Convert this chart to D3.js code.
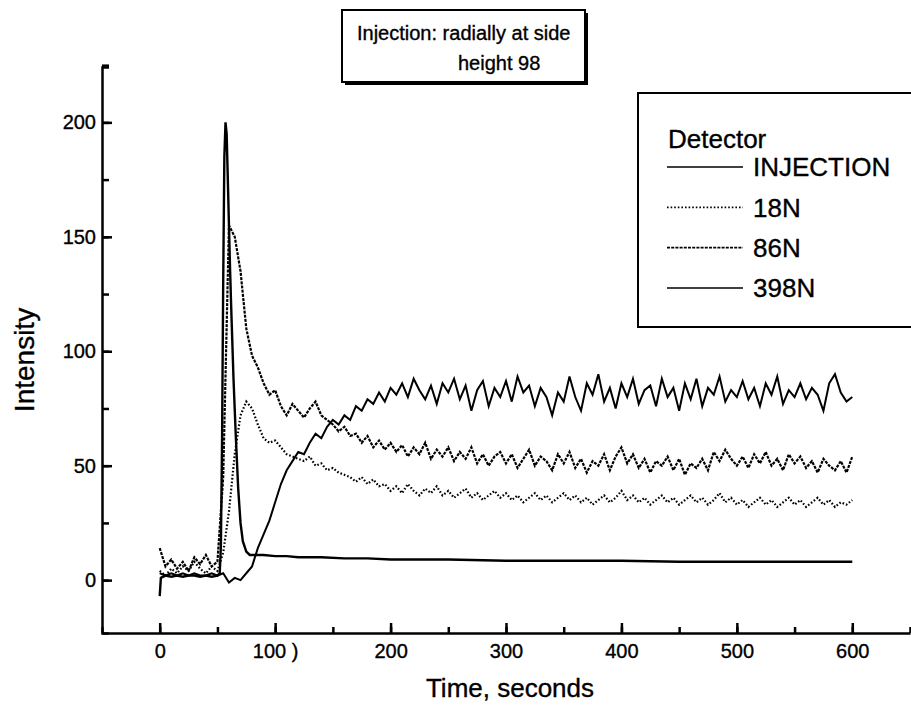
<!DOCTYPE html>
<html>
<head>
	<script src="https://d3js.org/d3.v7.min.js"></script>
	<title></title>
	<style type="text/css">
		body{ margin:0; background:#fff; }
		text{ font-family:"Liberation Sans", Arial, sans-serif; fill:#000; stroke:#000; stroke-width:0.35px; }
		.axis path, .axis line{ stroke:#000; stroke-width:2.5px; }
		.axis text{ font-size:20px; }
		.line{ fill:none; stroke:#000; }
	</style>
</head>
<body>

	<div id="chart"></div>

	<script type="text/javascript">

		// sample grid for the three detector traces (seconds)
		var time = d3.range(0, 601, 5);

		var v86N = [14, 6, 9, 5, 8, 4, 10, 7, 11, 6,
			8, 45, 155, 150, 135, 110, 98, 93, 86, 81,
			83, 76, 72, 77, 74, 71, 75, 78, 72, 70,
			68, 65, 67, 63, 64, 60, 63, 58, 61, 57,
			60, 56, 59, 54, 58, 55, 60, 53, 57, 54,
			58, 52, 56, 53, 58, 51, 55, 50, 54, 56,
			51, 55, 49, 53, 57, 50, 54, 52, 48, 55,
			51, 56, 49, 53, 47, 52, 50, 55, 48, 54,
			58, 51, 55, 49, 53, 47, 52, 50, 54, 48,
			53, 46, 51, 49, 53, 48, 56, 52, 57, 53,
			50, 54, 49, 55, 51, 56, 50, 53, 48, 55,
			51, 54, 49, 52, 47, 53, 50, 48, 52, 47,
			54];

		var v18N = [4, 2, 5, 3, 6, 4, 8, 5, 3, 6,
			4, 12, 30, 55, 72, 78, 75, 68, 62, 60,
			61, 58, 55, 54, 53, 52, 54, 50, 51, 48,
			49, 47, 46, 45, 43, 45, 42, 44, 41, 42,
			39, 41, 38, 42, 39, 37, 40, 38, 41, 37,
			39, 36, 38, 40, 36, 38, 35, 37, 39, 36,
			38, 35, 37, 34, 36, 38, 35, 37, 34, 36,
			38, 35, 37, 34, 36, 33, 35, 37, 34, 36,
			39, 35, 37, 34, 36, 33, 35, 37, 34, 36,
			33, 35, 37, 34, 36, 33, 35, 38, 34, 36,
			33, 35, 32, 34, 36, 33, 35, 32, 34, 36,
			33, 35, 32, 34, 36, 33, 35, 32, 34, 33,
			35];

		var v398N = [3, 2, 3, 2, 3, 2, 3, 2, 2, 3,
			2, 3, -1, 1, 0, 3, 6, 14, 20, 26,
			34, 42, 48, 52, 56, 55, 60, 64, 62, 67,
			70, 68, 72, 70, 76, 74, 79, 77, 82, 78,
			84, 81, 86, 80, 88, 83, 79, 85, 77, 86,
			82, 88, 79, 85, 74, 83, 87, 76, 84, 80,
			87, 78, 89, 82, 85, 76, 84, 80, 72, 82,
			78, 89, 80, 74, 86, 81, 90, 78, 84, 75,
			86, 80, 88, 77, 83, 85, 76, 88, 80, 84,
			74, 86, 79, 88, 76, 84, 81, 89, 78, 83,
			80, 87, 79, 84, 76, 86, 81, 89, 77, 83,
			80, 86, 79, 84, 81, 74, 86, 90, 82, 78,
			80];

		// injection trace is sharp, so it has its own finer times
		var tInjection = [0, 1, 5, 10, 15, 20, 25, 30, 35, 40, 45, 50,
			52, 53, 54, 55, 56, 57, 58, 59, 60, 61, 62,
			64, 66, 68, 70, 72, 75, 78, 80,
			90, 100, 110, 120, 140, 160, 180, 200,
			250, 300, 350, 400, 450, 500, 550, 600];
		var vInjection = [-7, 1, 2, 1.5, 2, 1.5, 2, 2, 1.5, 2, 1.5, 2,
			3, 15, 60, 130, 185, 200, 195, 175, 155, 135, 118,
			87, 62, 40, 25, 17, 12.5, 11, 11,
			11, 10.5, 10.5, 10, 10, 9.5, 9.5, 9,
			9, 8.5, 8.5, 8.5, 8, 8, 8, 8];

		var detectors = ["INJECTION", "18N", "86N", "398N"];
		var xTicks = [0, 100, 200, 300, 400, 500, 600];
		var xTickLabels = ["0", "100 )", "200", "300", "400", "500", "600"];
		var yTicks = [0, 50, 100, 150, 200];

		var width = 911, height = 715;

		var svg = d3.select("#chart")
			.append("svg")
			.attr("width", width)
			.attr("height", height)
			.style("background-color", "#fff");

		var xscale = d3.scaleLinear().domain([-50, 650]).range([102, 910]);
		var yscale = d3.scaleLinear().domain([-23.1, 224.2]).range([633, 67]);

		// minor ticks first, then the labelled axes
		svg.append("g").attr("class", "axis")
			.attr("transform", "translate(0,633)")
			.call(d3.axisBottom(xscale).tickValues(d3.range(-50, 651, 50)).tickSize(-6).tickFormat(""))
			.select(".domain").remove();
		svg.append("g").attr("class", "axis")
			.attr("transform", "translate(102,0)")
			.call(d3.axisLeft(yscale).tickValues(d3.range(0, 226, 25)).tickSize(-7).tickFormat(""))
			.select(".domain").remove();

		var xaxis = svg.append("g").attr("class", "axis")
			.attr("transform", "translate(0,633)")
			.call(d3.axisBottom(xscale).tickValues(xTicks).tickSize(-10).tickSizeOuter(0).tickPadding(11)
				.tickFormat(function(d, i){ return xTickLabels[i]; }));

		var yaxis = svg.append("g").attr("class", "axis")
			.attr("transform", "translate(102,0)")
			.call(d3.axisLeft(yscale).tickValues(yTicks).tickSize(-10).tickSizeOuter(-7).tickPadding(6));

		svg.selectAll(".axis .domain").style("fill", "none");

		svg.append("text")
			.attr("x", 510).attr("y", 697)
			.attr("text-anchor", "middle")
			.style("font-size", "26px")
			.text("Time, seconds");

		svg.append("text")
			.attr("transform", "translate(34,360) rotate(-90)")
			.attr("text-anchor", "middle")
			.style("font-size", "28px")
			.text("Intensity");

		// traces
		var line = d3.line()
			.x(function(d){ return xscale(d[0]) })
			.y(function(d){ return yscale(d[1]) });

		var series = [
			{ name: "INJECTION", pts: d3.zip(tInjection, vInjection), dash: null, w: 2.4 },
			{ name: "18N", pts: d3.zip(time, v18N), dash: "1.6,2", w: 2.2 },
			{ name: "86N", pts: d3.zip(time, v86N), dash: "3,1.2", w: 2.2 },
			{ name: "398N", pts: d3.zip(time, v398N), dash: null, w: 2 }
		];

		svg.append("g").selectAll("path")
			.data(series)
			.enter().append("path")
			.attr("class", "line")
			.attr("d", function(d){ return line(d.pts) })
			.style("stroke-width", function(d){ return d.w })
			.style("stroke-dasharray", function(d){ return d.dash });

		// title box
		var title = svg.append("g");
		title.append("rect").attr("x", 345).attr("y", 13).attr("width", 243).attr("height", 72).style("fill", "#000");
		title.append("rect").attr("x", 342).attr("y", 10).attr("width", 243).attr("height", 72)
			.style("fill", "#fff").style("stroke", "#000").style("stroke-width", 2);
		title.append("text").attr("x", 357).attr("y", 40).style("font-size", "20px").text("Injection: radially at side");
		title.append("text").attr("x", 458).attr("y", 70).style("font-size", "20px").text("height 98");

		// legend
		var legend = svg.append("g");
		legend.append("rect").attr("x", 638).attr("y", 93).attr("width", 290).attr("height", 234)
			.style("fill", "#fff").style("stroke", "#000").style("stroke-width", 2);
		legend.append("text").attr("x", 668).attr("y", 148).style("font-size", "26px").text("Detector");

		var legendY = d3.scalePoint().domain(detectors).range([167, 288]);
		var items = legend.selectAll(".item")
			.data(series)
			.enter().append("g")
			.attr("transform", function(d){ return "translate(0," + legendY(d.name) + ")" });
		items.append("line")
			.attr("x1", 667).attr("x2", 743)
			.attr("stroke", "#000")
			.style("stroke-width", 1.6)
			.style("stroke-dasharray", function(d){ return d.dash });
		items.append("text")
			.attr("x", 753).attr("dy", "0.36em")
			.style("font-size", "26px")
			.text(function(d){ return d.name });

	</script>

</body>
</html>
